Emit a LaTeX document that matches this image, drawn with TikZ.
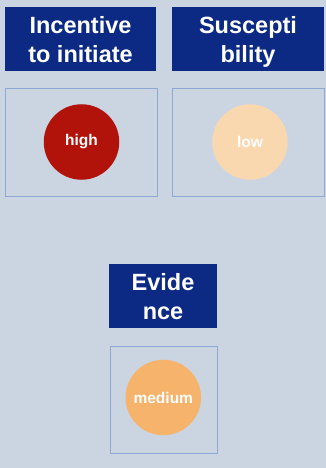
\documentclass[tikz,border=0pt]{standalone}
\usepackage{fontspec}
\setmainfont{Liberation Sans}
\usepackage{tikz}
\definecolor{fondo}{RGB}{203, 213, 226}
\definecolor{azul}{RGB}{12, 42, 132}
\definecolor{marco}{RGB}{143, 168, 212}
\definecolor{alto}{RGB}{177, 19, 10}
\definecolor{medio}{RGB}{245, 179, 107}
\definecolor{bajo}{RGB}{249, 216, 176}

\tikzset{
	titulo/.style={fill=azul, text=white, align=center, inner sep=0pt,
		text depth=-1.5pt, minimum height=64,
		font=\fontsize{23.5}{29}\selectfont\bfseries},
	panel/.style={draw=marco, line width=1pt, minimum height=107, inner sep=0pt},
	nivel/.style={circle, minimum size=75.5, inner sep=0pt, text=white,
		font=\fontsize{15.5}{17}\selectfont\bfseries}
}

\begin{document}
\begin{tikzpicture}[x=1pt, y=-1pt]
	% fondo de toda la figura
	\fill[fondo] (0,0) rectangle (326,468);
	\useasboundingbox (0,0) rectangle (326,468);

	% Columna izquierda
	\node[titulo, minimum width=151] (incentivo) at (80.5,39) {Incentive\\to initiate};
	\node[panel, minimum width=152] (panelA) at (81,142.5) {};
	\node[nivel, fill=alto] (high) at (81.5,142) {high};

	% Columna derecha
	\node[titulo, minimum width=152] (suscept) at (248,39) {Suscepti\\bility};
	\node[panel, minimum width=152] (panelB) at (248,142.5) {};
	\node[nivel, fill=bajo] (low) at (250,142) {low};

	% Abajo al centro
	\node[titulo, minimum width=107.5] (evidencia) at (163,296.3) {Evide\\nce};
	\node[panel, minimum width=107.5, minimum height=106.5] (panelC) at (163.8,400) {};
	\node[nivel, fill=medio] (medium) at (163.3,397.5) {medium};
\end{tikzpicture}
\end{document}
